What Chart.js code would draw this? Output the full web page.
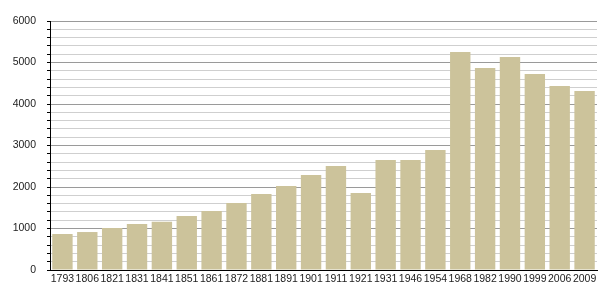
<!DOCTYPE html>
<html>
<head>
<meta charset="utf-8">
<script src="https://cdn.jsdelivr.net/npm/chart.js@4.4.0/dist/chart.umd.min.js"></script>
<style>
  html, body { margin: 0; padding: 0; background: #fff; }
  #wrap { width: 605px; height: 300px; }
</style>
</head>
<body>
<div id="wrap"><canvas id="popChart" width="605" height="300"></canvas></div>
<script>
// Data
const years = ["1793", "1806", "1821", "1831", "1841", "1851", "1861", "1872", "1881", "1891", "1901",
  "1911", "1921", "1931", "1946", "1954", "1968", "1982", "1990", "1999", "2006", "2009"];
const population = [867, 915, 1012, 1108, 1164, 1301, 1422, 1614, 1831, 2024, 2289,
  2506, 1855, 2650, 2650, 2892, 5253, 4867, 5133, 4723, 4434, 4313];
const yMax = 6000;
const minorStep = 200;
const majorStep = 1000;

const barColor = "#ccc39b";

const ctx = document.getElementById("popChart");
new Chart(ctx, {
  type: "bar",
  data: {
    labels: years,
    datasets: [{
      data: population,
      backgroundColor: barColor,
      borderWidth: 0,
      barPercentage: 0.82,
      categoryPercentage: 1
    }]
  },
  options: {
    responsive: false,
    animation: false,
    layout: { padding: { top: 21, right: 8, left: 0, bottom: 0 } },
    plugins: { legend: { display: false }, tooltip: { enabled: false } },
    scales: {
      x: {
        grid: { display: false, drawTicks: false },
        border: { display: true, color: "#000", width: 1 },
        ticks: {
          color: "#222",
          font: { family: "Liberation Sans, Arial, sans-serif", size: 10.5 },
          padding: 3,
          maxRotation: 0,
          autoSkip: false
        },
        afterFit: (axis) => { axis.height = 30; }
      },
      y: {
        min: 0,
        max: yMax,
        border: { display: true, color: "#000", width: 1 },
        grid: {
          color: (c) => (c.tick && c.tick.value % majorStep === 0) ? "#9a9a9a" : "#cfcfcf",
          tickColor: "#000",
          tickLength: 3,
          lineWidth: 1
        },
        ticks: {
          stepSize: minorStep,
          autoSkip: false,
          color: "#222",
          font: { family: "Liberation Sans, Arial, sans-serif", size: 10.5 },
          padding: 11,
          callback: (v) => (v % majorStep === 0 ? v : "")
        },
        afterFit: (axis) => { axis.width = 50; }
      }
    }
  }
});
</script>
</body>
</html>
